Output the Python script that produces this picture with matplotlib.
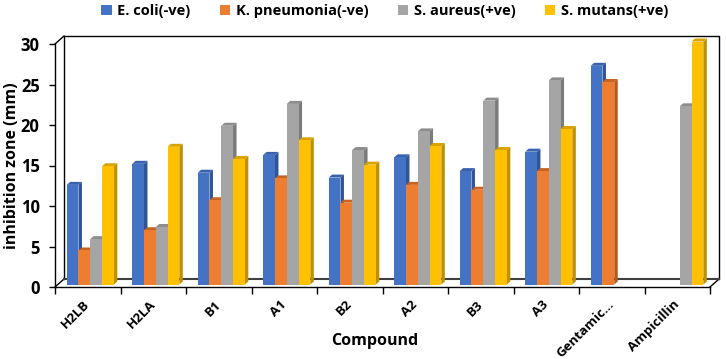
import numpy as np
import matplotlib
matplotlib.use("Agg")
import matplotlib.pyplot as plt
from matplotlib.patches import Polygon, Patch

plt.rcParams['font.family'] = ['Open Sans', 'DejaVu Sans']
plt.rcParams['font.weight'] = 'bold'

compounds = ['H2LB', 'H2LA', 'B1', 'A1', 'B2', 'A2', 'B3', 'A3', 'Gentamic...', 'Ampicillin']
series_names = ['E. coli(-ve)', 'K. pneumonia(-ve)', 'S. aureus(+ve)', 'S. mutans(+ve)']
e_coli = [12.3, 14.9, 13.8, 16.0, 13.2, 15.7, 14.0, 16.4, 27.0, np.nan]
k_pneumonia = [4.2, 6.7, 10.4, 13.1, 10.1, 12.3, 11.7, 14.0, 25.0, np.nan]
s_aureus = [5.6, 7.1, 19.6, 22.3, 16.6, 18.9, 22.7, 25.2, np.nan, 22.0]
s_mutans = [14.6, 17.0, 15.5, 17.8, 14.8, 17.1, 16.6, 19.2, np.nan, 30.0]
series = [e_coli, k_pneumonia, s_aureus, s_mutans]

front = ['#4472C4', '#ED7D31', '#A5A5A5', '#FFC000']
side = ['#2F5597', '#B45A1E', '#7B7B7B', '#BF9000']
top = ['#3A62AC', '#C8641F', '#8C8C8C', '#D9A300']

W, H = 726, 359
fig = plt.figure(figsize=(W / 100, H / 100), dpi=100)
x0, x1, y_top, y_bot = 55, 710, 44, 287
ax = fig.add_axes([x0 / W, (H - y_bot) / H, (x1 - x0) / W, (y_bot - y_top) / H])
ax.set_xlim(0, 10)
ax.set_ylim(0, 30)
for s in ax.spines.values():
    s.set_visible(False)

# pixel -> data
px = 10 / (x1 - x0)
py = 30 / (y_bot - y_top)

# back wall frame, offset (9, 8) px
wx, wy = 9 * px, 8 * py
ln = dict(color='black', lw=1.0, clip_on=False, zorder=1)
ax.plot([wx, wx, 10 + wx, 10 + wx], [wy, 30 + wy, 30 + wy, wy], **ln)
ax.plot([0, wx], [30, 30 + wy], **ln)
ax.plot([0, wx], [0, wy], **ln)
ax.plot([10, 10 + wx], [0, wy], **ln)
ax.plot([wx, 10 + wx], [wy, wy], color='#404040', lw=1.5, clip_on=False, zorder=1)
# front axes
ax.plot([0, 0], [0, 30], **ln)
ax.plot([0, 10], [0, 0], **ln)

# bars with pseudo 3D faces
bw = 0.18
sx, sy = 2.5 * px, 2.5 * py
dx, dy = 3.5 * px, 3.0 * py
z = 2
for i in range(len(compounds)):
    for j, vals in enumerate(series):
        v = vals[i]
        if np.isnan(v):
            continue
        left = i + 0.5 - 2 * bw + j * bw + sx
        right = left + bw
        b = sy
        t = v + sy
        ax.add_patch(Polygon([(right, b), (right + dx, b + dy), (right + dx, t + dy), (right, t)],
                             closed=True, facecolor=side[j], edgecolor='none', clip_on=False, zorder=z))
        ax.add_patch(Polygon([(left, t), (left + dx, t + dy), (right + dx, t + dy), (right, t)],
                             closed=True, facecolor=top[j], edgecolor='none', clip_on=False, zorder=z))
        ax.bar(left, v, width=bw, bottom=b, align='edge', color=front[j], edgecolor='none',
               clip_on=False, zorder=z + 1)
        z += 2

ax.set_yticks(np.arange(0, 31, 5))
ax.tick_params(axis='y', length=4, width=1, labelsize=12, pad=7)
for lab in ax.get_yticklabels():
    lab.set_fontweight('bold')

ax.set_xticks(np.arange(0, 11), minor=True)
ax.set_xticks(np.arange(10) + 0.5)
ax.set_xticklabels(compounds, rotation=45, ha='right', va='center', rotation_mode='anchor',
                   fontsize=9.5, fontweight='bold')
ax.tick_params(axis='x', which='major', length=0, pad=11)
ax.tick_params(axis='x', which='minor', length=5, width=1)

ax.set_ylabel('inhibition zone (mm)', fontsize=11.5, fontweight='bold')
ax.yaxis.set_label_coords(-(x0 - 20) / (x1 - x0), 0.5)
fig.text(375 / W, 1 - 341 / H, 'Compound', ha='center', va='center',
         fontsize=11.5, fontweight='bold')

handles = [Patch(facecolor=c, edgecolor='none') for c in front]
fig.legend(handles, series_names, loc='upper center', bbox_to_anchor=(0.53, 1.025), ncol=4,
           frameon=False, handlelength=0.7, handleheight=0.7,
           handletextpad=0.4, columnspacing=2.0, prop={'weight': 'bold', 'size': 10.5})

fig.savefig('out.png', dpi=100)
